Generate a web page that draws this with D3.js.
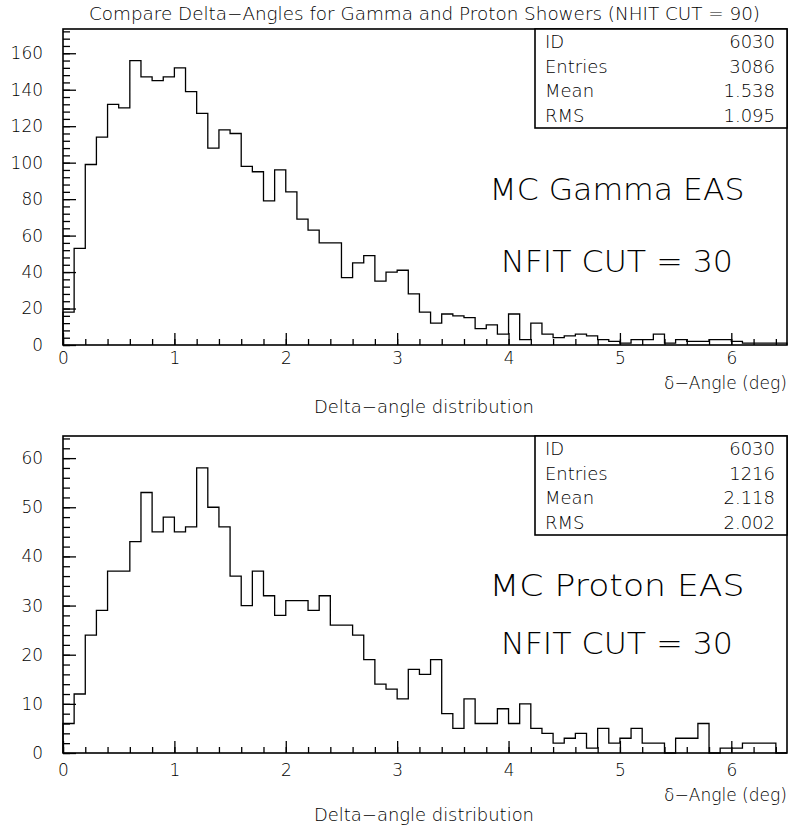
<!DOCTYPE html>
<html><head><meta charset="utf-8">
<script src="https://cdn.jsdelivr.net/npm/d3@7"></script>
<style>
body{margin:0;background:#fff}
svg{display:block}
text{font-family:"DejaVu Sans","Liberation Sans",sans-serif;fill:#000;font-weight:200}
</style>
</head><body>
<script>
// ---- data ----
const binWidth = 0.1;
const xMax = 6.5;
const xTicks = [0, 1, 2, 3, 4, 5, 6];

const gammaCounts = [18,53,99,114,132,130,156,147,145,147,152,139,127,108,118,116,98,95,
  79,96,84,69,63,56,56,37,45,49,35,40,41,28,18,12,17,16,15,9,11,6,17,
  3,12,6,4,5,6,5,3,2,1,3,3,6,1,3,2,2,3,3,2,1,1,1,1];
const protonCounts = [6,12,24,29,37,37,43,53,45,48,45,46,58,50,46,36,30,37,
  32,28,31,31,29,32,26,26,24,19,14,13,11,17,16,19,8,5,11,6,6,9,6,
  10,5,4,2,3,4,1,5,2,3,5,2,2,0,3,3,6,0,1,1,2,2,2,0];

const gammaYTicks = [0,20,40,60,80,100,120,140,160];
const protonYTicks = [0,10,20,30,40,50,60];

const gammaStats = [["ID","6030"],["Entries","3086"],["Mean","1.538"],["RMS","1.095"]];
const protonStats = [["ID","6030"],["Entries","1216"],["Mean","2.118"],["RMS","2.002"]];

const titleText = "Compare Delta-Angles for Gamma and Proton Showers (NHIT CUT = 90)";
const xAxisLabel = "\u03b4\u2212Angle (deg)";
const histTitle = "Delta\u2212angle distribution";
const gammaLabels = ["MC Gamma EAS", "NFIT CUT = 30"];
const protonLabels = ["MC Proton EAS", "NFIT CUT = 30"];

// ---- drawing ----
const W = 791, H = 831;
const svg = d3.select("body").append("svg").attr("width", W).attr("height", H);

svg.append("text").attr("x", 89).attr("y", 20)
  .attr("font-size", 17).attr("textLength", 671).attr("lengthAdjust", "spacingAndGlyphs")
  .text(titleText.replace(/-/g, "\u2212"));

function styleTickText(sel) {
  sel.attr("font-size", 17).attr("font-family", "DejaVu Sans").attr("font-weight", 200)
    .attr("fill", "#000")
    .attr("textLength", function() { return this.textContent.length * 10.8; })
    .attr("lengthAdjust", "spacingAndGlyphs");
}

function panel(cfg) {
  const x = d3.scaleLinear().domain([0, xMax]).range([63, 787]);
  const y = d3.scaleLinear().domain([0, cfg.yMax]).range([cfg.bottom, cfg.top]);
  const g = svg.append("g");

  // histogram step line
  const pts = [[0, 0]];
  cfg.counts.forEach((c, i) => {
    pts.push([i * binWidth, c]);
    pts.push([(i + 1) * binWidth, c]);
  });
  pts.push([cfg.counts.length * binWidth, 0]);
  g.append("path").datum(pts)
    .attr("d", d3.line().x(d => x(d[0])).y(d => y(d[1])))
    .attr("fill", "none").attr("stroke", "#000").attr("stroke-width", 1.3);

  // y axis major
  const yAx = g.append("g").attr("transform", `translate(${x(0)},0)`)
    .call(d3.axisLeft(y).tickValues(cfg.yTicks).tickSize(-13).tickPadding(20).tickFormat(d3.format("d")));
  yAx.select(".domain").remove();
  yAx.selectAll("line").attr("stroke", "#000").attr("stroke-width", 1.3);
  styleTickText(yAx.selectAll("text"));
  // y minor
  const yMin = g.append("g").attr("transform", `translate(${x(0)},0)`)
    .call(d3.axisLeft(y).tickValues(d3.range(0, cfg.yMax, cfg.yMinor)).tickSize(-7).tickFormat(""));
  yMin.select(".domain").remove();
  yMin.selectAll("line").attr("stroke", "#000").attr("stroke-width", 1.3);

  // x axis major
  const xAx = g.append("g").attr("transform", `translate(0,${cfg.bottom})`)
    .call(d3.axisBottom(x).tickValues(xTicks).tickSize(-12).tickPadding(cfg.xPad).tickFormat(d3.format("d")));
  xAx.select(".domain").remove();
  xAx.selectAll("line").attr("stroke", "#000").attr("stroke-width", 1.3);
  styleTickText(xAx.selectAll("text"));
  const xMin = g.append("g").attr("transform", `translate(0,${cfg.bottom})`)
    .call(d3.axisBottom(x).tickValues(d3.range(0, xMax, 0.2)).tickSize(-6).tickFormat(""));
  xMin.select(".domain").remove();
  xMin.selectAll("line").attr("stroke", "#000").attr("stroke-width", 1.3);

  // frame
  g.append("rect").attr("x", x(0)).attr("y", cfg.top)
    .attr("width", x(xMax) - x(0)).attr("height", cfg.bottom - cfg.top)
    .attr("fill", "none").attr("stroke", "#000").attr("stroke-width", 1.6);

  // stats box
  const bx = 535, bw = x(xMax) - bx, bh = 99;
  g.append("rect").attr("x", bx).attr("y", cfg.top).attr("width", bw).attr("height", bh)
    .attr("fill", "#fff").attr("stroke", "#000").attr("stroke-width", 1.6);
  cfg.stats.forEach((s, i) => {
    const by = cfg.top + 19 + i * 24.6;
    g.append("text").attr("x", 545).attr("y", by).attr("font-size", 18).text(s[0]);
    g.append("text").attr("x", 775).attr("y", by).attr("font-size", 18)
      .attr("text-anchor", "end").text(s[1]);
  });

  // big labels
  g.append("text").attr("x", 617).attr("y", cfg.top + cfg.lab1).attr("font-size", 30)
    .attr("text-anchor", "middle").attr("textLength", 255).attr("lengthAdjust", "spacingAndGlyphs")
    .text(cfg.labels[0]);
  g.append("text").attr("x", 617).attr("y", cfg.top + cfg.lab2).attr("font-size", 30)
    .attr("text-anchor", "middle").attr("textLength", 232).attr("lengthAdjust", "spacingAndGlyphs")
    .text(cfg.labels[1]);

  // axis labels
  g.append("text").attr("x", 787).attr("y", cfg.bottom + cfg.axLab).attr("font-size", 17)
    .attr("text-anchor", "end").attr("textLength", 123).attr("lengthAdjust", "spacingAndGlyphs")
    .text(xAxisLabel);
  g.append("text").attr("x", 424).attr("y", cfg.bottom + cfg.hLab).attr("font-size", 17)
    .attr("text-anchor", "middle").attr("textLength", 220).attr("lengthAdjust", "spacingAndGlyphs")
    .text(histTitle);
}

panel({top: 29, bottom: 345, yMax: 173.3, counts: gammaCounts, yTicks: gammaYTicks, yMinor: 4,
  stats: gammaStats, labels: gammaLabels, lab1: 171, lab2: 243, xPad: 7, axLab: 44, hLab: 68});
panel({top: 436, bottom: 753, yMax: 64.5, counts: protonCounts, yTicks: protonYTicks, yMinor: 2,
  stats: protonStats, labels: protonLabels, lab1: 160, lab2: 218, xPad: 11, axLab: 48, hLab: 68});
</script>
</body></html>
